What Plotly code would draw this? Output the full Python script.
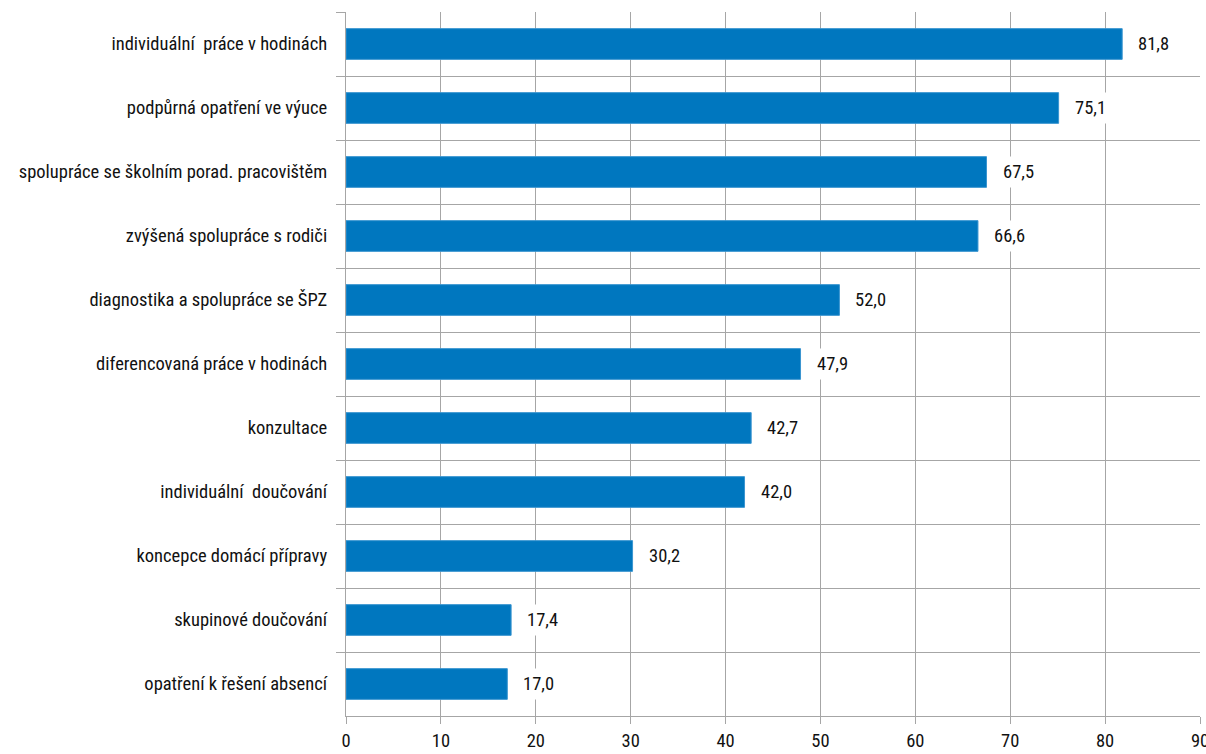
import plotly.graph_objects as go

categories = [
    "individuální\u00a0 práce v hodinách",
    "podpůrná opatření ve výuce",
    "spolupráce se školním porad. pracovištěm",
    "zvýšená spolupráce s rodiči",
    "diagnostika a spolupráce se ŠPZ",
    "diferencovaná práce v hodinách",
    "konzultace",
    "individuální\u00a0 doučování",
    "koncepce domácí přípravy",
    "skupinové doučování",
    "opatření k řešení absencí",
]
values = [81.8, 75.1, 67.5, 66.6, 52.0, 47.9, 42.7, 42.0, 30.2, 17.4, 17.0]
x_ticks = [0, 10, 20, 30, 40, 50, 60, 70, 80, 90]

FONT = "Liberation Sans Narrow, Roboto Condensed, DejaVu Sans Condensed, Arial Narrow, sans-serif"
GRID = "#A6A6A6"
FS = 18.5

fig = go.Figure()
fig.add_trace(go.Bar(
    x=values, y=categories, orientation="h",
    marker=dict(color="#0077BF", line=dict(color="#3A95D0", width=1)),
    width=0.48,
    hoverinfo="skip",
))

for c, v in zip(categories, values):
    fig.add_annotation(
        x=v, y=c, xref="x", yref="y",
        text=f"{v:.1f}".replace(".", ","),
        showarrow=False, xanchor="left", xshift=11,
        bgcolor="white", borderpad=4,
        font=dict(family=FONT, size=FS, color="#111111"),
    )

fig.update_layout(
    width=1206, height=754,
    margin=dict(l=346, r=6, t=12, b=38, autoexpand=False),
    paper_bgcolor="white", plot_bgcolor="white",
    showlegend=False,
    font=dict(family=FONT, size=FS, color="#111111"),
)
fig.update_xaxes(
    range=[0, 90], tickvals=x_ticks,
    showgrid=True, gridcolor=GRID, gridwidth=1.3,
    showline=True, linecolor=GRID, linewidth=1.3,
    ticks="outside", ticklen=7, tickcolor=GRID, tickwidth=1.3,
    ticklabelstandoff=1, ticklabeloverflow="allow", automargin=False,
    zeroline=False, fixedrange=True,
)
fig.update_yaxes(
    autorange="reversed", type="category",
    tickson="boundaries",
    showgrid=True, gridcolor=GRID, gridwidth=1.3,
    showline=True, linecolor=GRID, linewidth=1.3,
    ticks="outside", ticklen=9, tickcolor=GRID, tickwidth=1.3,
    ticklabelstandoff=14, automargin=False,
    zeroline=False, fixedrange=True,
)

fig.write_html(
    "out.html",
    config={"displayModeBar": False},
    post_script="document.body.style.margin='0';document.body.style.overflow='hidden';",
)
